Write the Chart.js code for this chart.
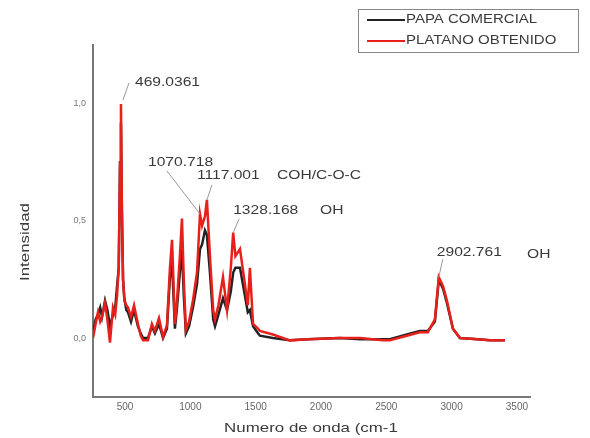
<!DOCTYPE html>
<html>
<head>
<meta charset="utf-8">
<script src="https://cdn.jsdelivr.net/npm/chart.js@4.4.1/dist/chart.umd.min.js"></script>
<style>
  body { margin: 0; background: #fff; }
  #wrap { width: 590px; height: 438px; }
</style>
</head>
<body>
<div id="wrap"><canvas id="ftir" width="590" height="438"></canvas></div>
<script>
// wavenumbers (cm-1)
const wavenumbers = [255, 275, 293, 310, 324, 347, 365, 385, 408, 425, 439, 452, 462, 469, 476, 485, 495, 510, 523, 546,
  569, 599, 620, 638, 676, 706, 729, 760, 791, 821, 844, 860, 882, 898, 920, 936, 950, 966, 990, 1020,
  1051, 1074, 1090, 1112, 1127, 1150, 1175, 1189, 1215, 1250, 1281, 1310, 1328, 1345, 1380, 1418, 1440, 1456, 1480, 1518,
  1533, 1632, 1762, 1900, 2145, 2300, 2475, 2527, 2657, 2757, 2818, 2872, 2902, 2935, 2964, 3010, 3064, 3200, 3293, 3408];

const papaComercial = [0.02, 0.08, 0.10, 0.13, 0.09, 0.16, 0.12, 0.05, 0.10, 0.13, 0.22, 0.30, 0.75, 0.92, 0.55, 0.25, 0.17, 0.12, 0.11, 0.07,
  0.12, 0.05, 0.02, 0.00, 0.00, 0.05, 0.02, 0.06, 0.00, 0.04, 0.26, 0.32, 0.04, 0.13, 0.28, 0.38, 0.18, 0.02, 0.05, 0.13,
  0.23, 0.38, 0.40, 0.46, 0.44, 0.28, 0.08, 0.05, 0.10, 0.17, 0.12, 0.20, 0.28, 0.30, 0.30, 0.18, 0.11, 0.12, 0.05, 0.02,
  0.01, 0.00, -0.01, -0.005, 0.00, -0.005, -0.005, -0.005, 0.015, 0.03, 0.03, 0.07, 0.25, 0.21, 0.15, 0.04, 0.00, -0.005, -0.01, -0.01];

const platanoObtenido = [0.00, 0.06, 0.11, 0.07, 0.09, 0.15, 0.08, -0.02, 0.13, 0.10, 0.18, 0.30, 0.75, 1.00, 0.55, 0.25, 0.16, 0.14, 0.13, 0.09,
  0.14, 0.06, 0.01, -0.01, -0.01, 0.06, 0.03, 0.085, 0.005, 0.055, 0.30, 0.42, 0.06, 0.16, 0.35, 0.51, 0.25, 0.035, 0.07, 0.16,
  0.28, 0.53, 0.48, 0.52, 0.59, 0.35, 0.12, 0.08, 0.14, 0.26, 0.12, 0.30, 0.45, 0.35, 0.38, 0.23, 0.14, 0.30, 0.06, 0.04,
  0.03, 0.015, -0.01, -0.005, 0.00, 0.00, -0.01, -0.01, 0.01, 0.025, 0.025, 0.08, 0.26, 0.22, 0.16, 0.04, 0.00, -0.005, -0.01, -0.01];

const seriesNames = ['PAPA COMERCIAL', 'PLATANO OBTENIDO'];
const xTicks = [500, 1000, 1500, 2000, 2500, 3000, 3500];
const yTicks = [0, 0.5, 1.0];

// peak labels
const peakLabels = ['469.0361', '1070.718', '1117.001', '1328.168', '2902.761'];
const peakWn = [469, 1074, 1127, 1328, 2902];
const peakVal = [1.00, 0.53, 0.59, 0.45, 0.26];
const peakGroups = ['', '', 'COH/C-O-C', 'OH', 'OH'];

function toPoints(vals) {
  return wavenumbers.map((wn, i) => ({ x: wn, y: vals[i] }));
}

// draw text stretched horizontally (the reference text is wide)
function wideText(ctx, txt, x, y, sx) {
  ctx.save();
  ctx.translate(x, y);
  ctx.scale(sx, 1);
  ctx.fillText(txt, 0, 0);
  ctx.restore();
}

// [text dx, text dy, leader start dx, dy, leader end dx, dy] relative to peak pixel
const labelOffsets = [
  [14, -22, 2, -4, 8, -21],
  [-52, -52, 0, 0, -33, -43],
  [-10, -25, 0, 0, 5, -15],
  [0, -22, 0, 0, 6, -14],
  [-2, -25, 0, 0, 4, -18]
];
const groupX = [0, 0, 277, 320, 527];

const overlay = {
  id: 'overlay',
  afterDraw(chart) {
    const ctx = chart.ctx;
    const xs = chart.scales.x, ys = chart.scales.y;
    ctx.save();
    ctx.fillStyle = '#3a3a3a';
    ctx.font = '13px "Liberation Sans", Arial, sans-serif';
    ctx.textBaseline = 'middle';
    ctx.textAlign = 'left';
    peakLabels.forEach((lbl, i) => {
      const px = xs.getPixelForValue(peakWn[i]);
      const py = ys.getPixelForValue(peakVal[i]);
      const o = labelOffsets[i];
      ctx.strokeStyle = '#999';
      ctx.lineWidth = 1;
      ctx.beginPath();
      ctx.moveTo(px + o[2], py + o[3]);
      ctx.lineTo(px + o[4], py + o[5]);
      ctx.stroke();
      wideText(ctx, lbl, px + o[0], py + o[1], 1.2);
      if (peakGroups[i]) {
        wideText(ctx, peakGroups[i], groupX[i], py + o[1] + (i === 4 ? 2 : 0), 1.2);
      }
    });

    // axis titles
    ctx.font = '13px "Liberation Sans", Arial, sans-serif';
    ctx.textAlign = 'center';
    ctx.save();
    ctx.translate(311, 428);
    ctx.scale(1.3, 1);
    ctx.fillText('Numero de onda (cm-1', 0, 0);
    ctx.restore();
    ctx.save();
    ctx.translate(25, 242);
    ctx.rotate(-Math.PI / 2);
    ctx.scale(1.3, 1);
    ctx.fillText('Intensidad', 0, 0);
    ctx.restore();

    // legend
    ctx.strokeStyle = '#888';
    ctx.lineWidth = 1;
    ctx.strokeRect(358.5, 9.5, 220, 43);
    const legendColors = chart.data.datasets.map(d => d.borderColor);
    const rowsY = [20, 41];
    ctx.textAlign = 'left';
    ctx.font = '12px "Liberation Sans", Arial, sans-serif';
    seriesNames.forEach((name, i) => {
      ctx.strokeStyle = legendColors[i];
      ctx.lineWidth = 2;
      ctx.beginPath();
      ctx.moveTo(367, rowsY[i]);
      ctx.lineTo(405, rowsY[i]);
      ctx.stroke();
      ctx.fillStyle = '#3a3a3a';
      wideText(ctx, name, 406, rowsY[i], 1.25);
    });
    ctx.restore();
  }
};

const tickFont = { family: '"Liberation Sans", Arial, sans-serif', size: 10 };

new Chart(document.getElementById('ftir'), {
  type: 'line',
  data: {
    datasets: [
      {
        label: seriesNames[0],
        data: toPoints(papaComercial),
        borderColor: '#222222',
        borderWidth: 2.5,
        pointRadius: 0,
        tension: 0,
        order: 1
      },
      {
        label: seriesNames[1],
        data: toPoints(platanoObtenido),
        borderColor: '#e8201c',
        borderWidth: 2.5,
        pointRadius: 0,
        tension: 0,
        order: 0
      }
    ]
  },
  options: {
    responsive: false,
    animation: false,
    layout: { padding: { top: 45, right: 60, left: 0, bottom: 0 } },
    plugins: { legend: { display: false }, tooltip: { enabled: false } },
    scales: {
      x: {
        type: 'linear',
        min: 255,
        max: 3600,
        grid: { display: false, drawTicks: false },
        border: { display: true, color: '#777', width: 2 },
        ticks: { font: tickFont, color: '#666', padding: 4, maxRotation: 0, callback: v => String(v) },
        afterBuildTicks: s => { s.ticks = xTicks.map(v => ({ value: v })); },
        afterFit: s => { s.height = 41; }
      },
      y: {
        min: -0.252,
        max: 1.252,
        grid: { display: false, drawTicks: false },
        border: { display: true, color: '#777', width: 2 },
        ticks: { font: { ...tickFont, size: 9 }, color: '#777', padding: 7, callback: v => v.toFixed(1).replace('.', ',') },
        afterBuildTicks: s => { s.ticks = yTicks.map(v => ({ value: v })); },
        afterFit: s => { s.width = 93; }
      }
    }
  },
  plugins: [overlay]
});
</script>
</body>
</html>
